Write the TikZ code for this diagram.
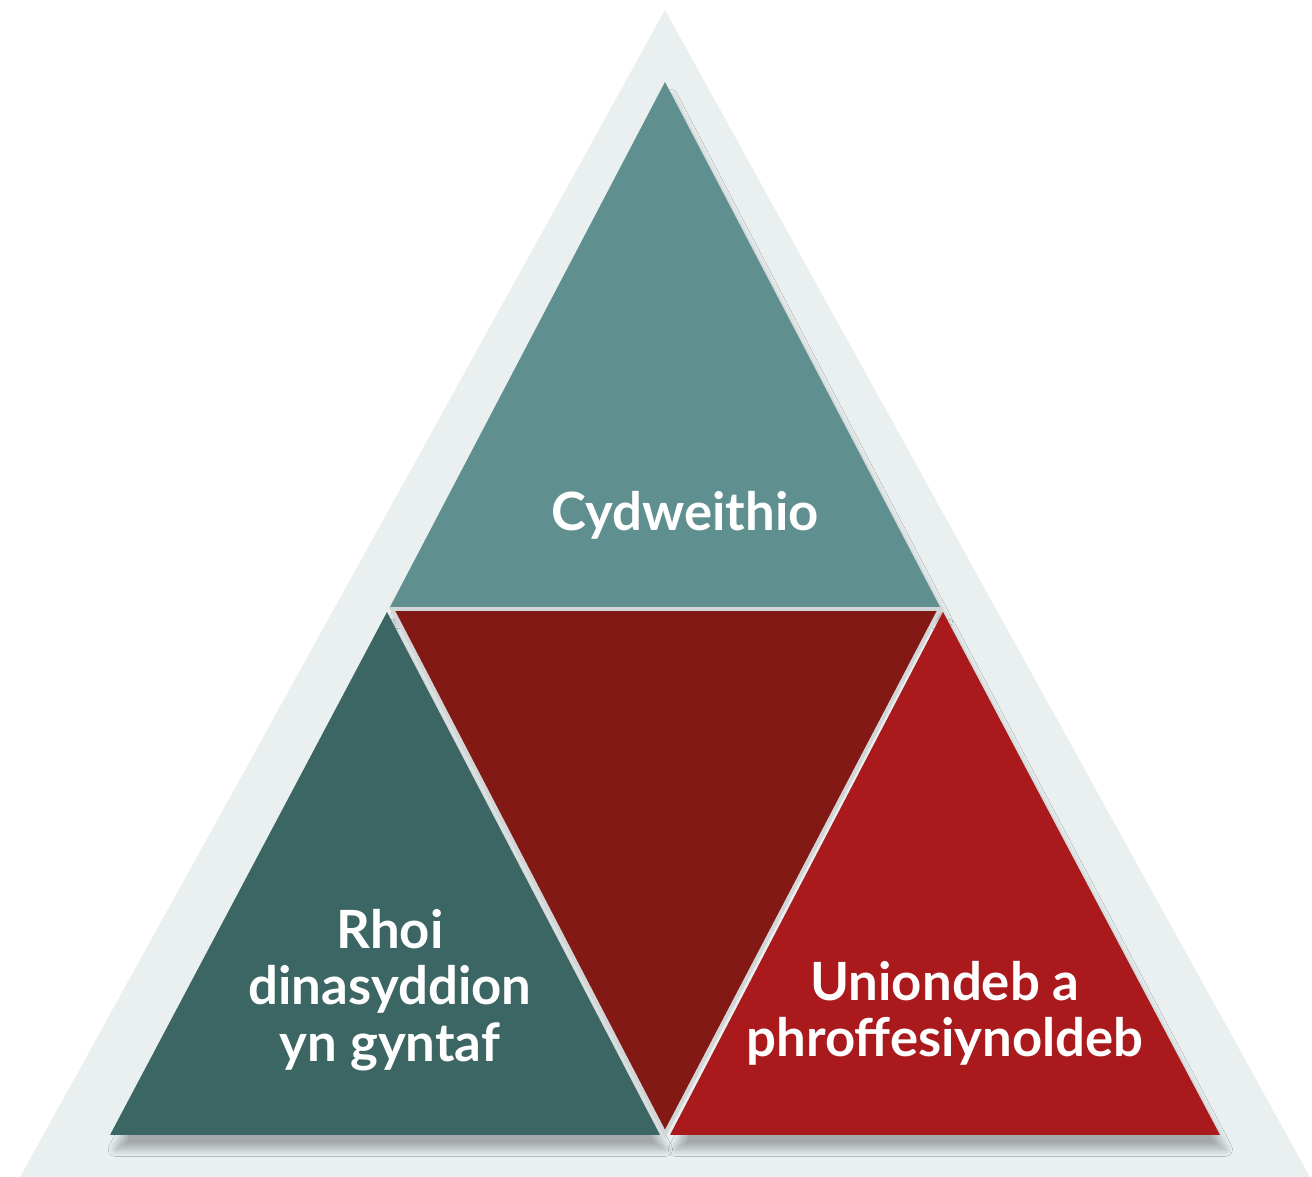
\documentclass[tikz,border=0pt]{standalone}
\usepackage{fontspec}
\setmainfont{Lato}
\usetikzlibrary{shadows.blur}
\definecolor{paleback}{HTML}{EAF0F0}
\definecolor{tealtop}{HTML}{5F8F8E}
\definecolor{tealdark}{HTML}{3B6664}
\definecolor{redmid}{HTML}{821915}
\definecolor{redright}{HTML}{AA1A1C}
\definecolor{gapline}{HTML}{D2D6D6}
\tikzset{
  part/.style={blur shadow={shadow xshift=.3ex,shadow yshift=-.8ex,shadow blur steps=12,shadow opacity=30}},
  label/.style={text=white,font=\fontsize{15}{16}\selectfont\bfseries,align=center}
}
\begin{document}
\begin{tikzpicture}
\useasboundingbox (0,0) rectangle (13.12,11.77);
% outer pale triangle
\fill[paleback](0.20,0)--(6.65,11.67)--(13.10,0)--cycle;
% the four inner triangles
\fill[part,fill=tealtop](3.90,5.70)--(6.65,10.95)--(9.40,5.70)--cycle;
\fill[part,fill=tealdark](1.10,0.42)--(3.87,5.65)--(6.60,0.42)--cycle;
\fill[part,fill=redright](6.70,0.42)--(9.43,5.65)--(12.20,0.42)--cycle;
\filldraw[draw=gapline,line width=1.1pt,fill=redmid](3.92,5.68)--(9.40,5.68)--(6.65,0.43)--cycle;
% texts
\node[label](top) at (6.85,6.62){Cydweithio};
\node[label](left) at (3.90,1.87){Rhoi\\dinasyddion\\yn gyntaf};
\node[label](right) at (9.45,1.64){Uniondeb a\\phroffesiynoldeb};
\end{tikzpicture}
\end{document}
